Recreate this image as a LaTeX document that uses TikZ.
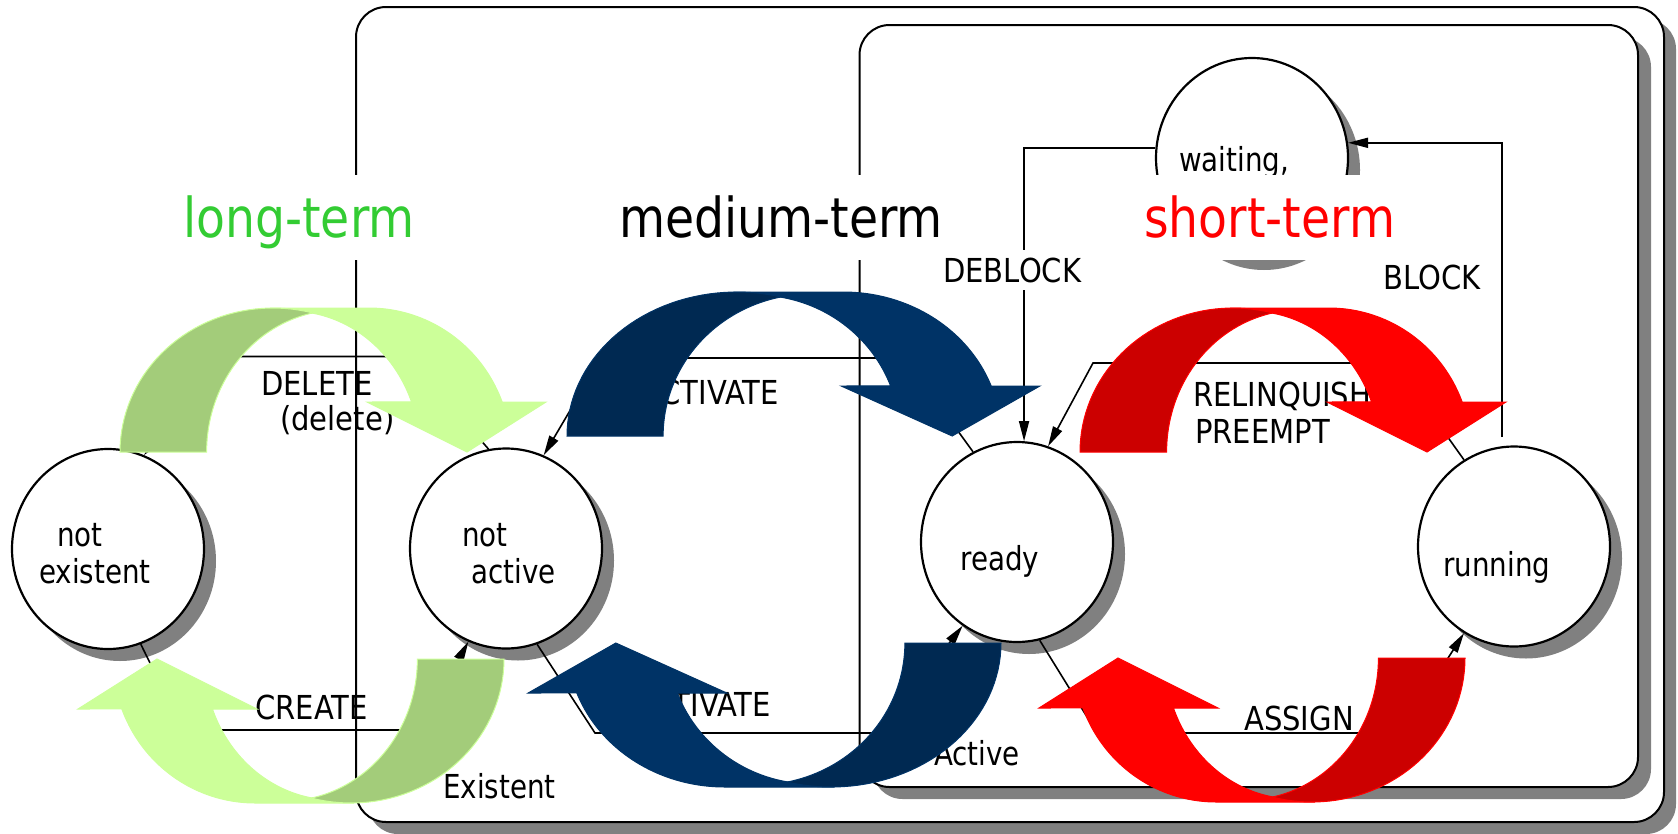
\documentclass[tikz,border=0pt]{standalone}
\usepackage{fontspec}
\setmainfont{DejaVu Sans}[FakeStretch=0.84]
\newfontfamily\capsfont{DejaVu Sans}[FakeStretch=0.88]
\newfontfamily\titlefont{DejaVu Sans}[FakeStretch=0.86]
\usetikzlibrary{shapes.geometric,arrows.meta,shadows}
\definecolor{glight}{HTML}{CCFF99}
\definecolor{gdark}{HTML}{A3CC7A}
\definecolor{blight}{HTML}{003366}
\definecolor{bdark}{HTML}{002952}
\definecolor{rlight}{HTML}{FF0000}
\definecolor{rdark}{HTML}{CC0000}
\definecolor{titlegreen}{HTML}{33CC33}
\definecolor{shadowgray}{HTML}{808080}
% curved block arrow in local coordinates (u right, v up), base-left at origin
\newcommand\mycurvedarrow[2]{%
  \filldraw[fill=#1,draw=#1,line width=1pt] (150,144) -- (249,144)
    -- plot[domain=90:20.3,samples=40,variable=\t] ({249+142*cos(\t)},{144*sin(\t)})
    -- (426,50) -- (347,0) -- (247,50)
    -- plot[domain=20.8:79.8,samples=40,variable=\t] ({170+130*cos(\t)},{141*sin(\t)})
    -- cycle;
  \filldraw[fill=#2,draw=#1,line width=1pt] (0,0)
    -- plot[domain=180:75,samples=40,variable=\t] ({153+153*cos(\t)},{144*sin(\t)})
    -- plot[domain=101.7:180,samples=40,variable=\t] ({219.6+133*cos(\t)},{142*sin(\t)})
    -- cycle;
}
\begin{document}
\begin{tikzpicture}[x=1pt,y=-1pt,
  state/.style={ellipse,draw,fill=white,line width=2.2pt,minimum width=192pt,minimum height=200pt,inner sep=0pt,
    drop shadow={shadow xshift=12pt,shadow yshift=-12pt,fill=shadowgray,opacity=1}},
  box/.style={rectangle,rounded corners=30pt,draw,fill=white,line width=2pt,inner sep=0pt},
  conn/.style={line width=1.6pt,-{Triangle[length=20pt,width=10pt]}},
  lbl/.style={font=\fontsize{33}{36}\selectfont,inner sep=0pt,anchor=base west},
  clbl/.style={font=\capsfont\fontsize{33}{36}\selectfont,inner sep=0pt,anchor=base west},
  ttl/.style={font=\titlefont\fontsize{55}{60}\selectfont,fill=white,inner xsep=8pt,inner ysep=0pt,text height=62pt,text depth=23pt,anchor=base west},
]
\useasboundingbox (0,0) rectangle (1678,833);
\clip (0,0) rectangle (1678,833);

% containers
\node[box,minimum width=1308pt,minimum height=815pt,
  drop shadow={shadow xshift=12pt,shadow yshift=-12pt,fill=shadowgray,opacity=1}] (existbox) at (1010,414.5) {};
\node[box,minimum width=778.5pt,minimum height=762pt,
  drop shadow={shadow xshift=13pt,shadow yshift=-12pt,fill=shadowgray,opacity=1}] (activebox) at (1248.75,406) {};

% states
\node[state] (ne) at (108,549) {};
\node[state] (na) at (506,548.5) {};
\node[state] (rd) at (1017,542) {};
\node[state] (rn) at (1514,546.5) {};
\node[state] (wt) at (1252,158) {};

% corner coordinates of the connectors
\coordinate (del1) at (409,356.5);
\coordinate (del2) at (229,356.5);
\coordinate (cre1) at (183,730);
\coordinate (cre2) at (420,730);
\coordinate (dea1) at (905,358);
\coordinate (dea2) at (601,358);
\coordinate (act1) at (595,733);
\coordinate (act2) at (880,733);
\coordinate (rel1) at (1395,363);
\coordinate (rel2) at (1093,363);
\coordinate (asg1) at (1097,733);
\coordinate (asg2) at (1400,733);

% connectors
\draw[conn] (na.100.5) -- (del1) -- (del2) -- (ne.69);
\draw[conn] (ne.-71) -- (cre1) -- (cre2) -- (na.-112);
\draw[conn] (rd.116.8) -- (dea1) -- (dea2) -- (na.68);
\draw[conn] (na.-72.6) -- (act1) -- (act2) -- (rd.-123);
\draw[conn] (rn.120.7) -- (rel1) -- (rel2) -- (rd.72);
\draw[conn] (rd.-77.6) -- (asg1) -- (asg2) -- (rn.-120.6);
\draw[conn] (rn.97) ++(0,-9) |- (wt.9.6);
\draw[conn] (wt.174) -| (rd.86.5);

% state texts
\node[lbl] (ne1) at (57,546) {not};
\node[lbl] (ne2) at (39,583) {existent};
\node[lbl] (na1) at (462,546) {not};
\node[lbl] (na2) at (471,583) {active};
\node[lbl] (rdt) at (960,570) {ready};
\node[lbl] (rnt) at (1443,576) {running};
\node[lbl] (wtt) at (1179,171) {waiting,};

% transition labels
\node[clbl] (ldel) at (261,395) {DELETE};
\node[clbl] (ldel2) at (280,430) {(delete)};
\node[clbl] (lcre) at (255,719) {CREATE};
\node[clbl,anchor=base east] (ldea) at (779,404) {DEACTIVATE};
\node[clbl,anchor=base east] (lact) at (771,716) {ACTIVATE};
\node[clbl] (lblk) at (1383,289) {BLOCK};
\node[clbl] (lrel) at (1193,406) {RELINQUISH};
\node[clbl] (lpre) at (1195,443) {PREEMPT};
\node[clbl] (lasg) at (1244,730) {ASSIGN};
\node[lbl] (lexist) at (443,798) {Existent};
\node[lbl] (lactive) at (934,765) {Active};

% titles
\node[ttl,text=titlegreen] (tlong) at (175,237) {long-term};
\node[ttl,text=black] (tmed) at (611,237) {medium-term};
\node[ttl,text=rlight] (tshort) at (1136,237) {short-term};
\node[clbl,fill=white,inner xsep=3pt,text height=32pt,text depth=8pt] (ldeb) at (940,282) {DEBLOCK};

% big curved arrows
\begin{scope}[shift={(120,452)},yscale=-1] \mycurvedarrow{glight}{gdark} \end{scope}
\begin{scope}[shift={(567,436)},xscale=1.11,yscale=-1] \mycurvedarrow{blight}{bdark} \end{scope}
\begin{scope}[shift={(1080,452)},yscale=-1] \mycurvedarrow{rlight}{rdark} \end{scope}
\begin{scope}[shift={(504,659)},xscale=-1] \mycurvedarrow{glight}{gdark} \end{scope}
\begin{scope}[shift={(1001,643)},xscale=-1.11] \mycurvedarrow{blight}{bdark} \end{scope}
\begin{scope}[shift={(1465,658)},xscale=-1] \mycurvedarrow{rlight}{rdark} \end{scope}
\end{tikzpicture}
\end{document}
